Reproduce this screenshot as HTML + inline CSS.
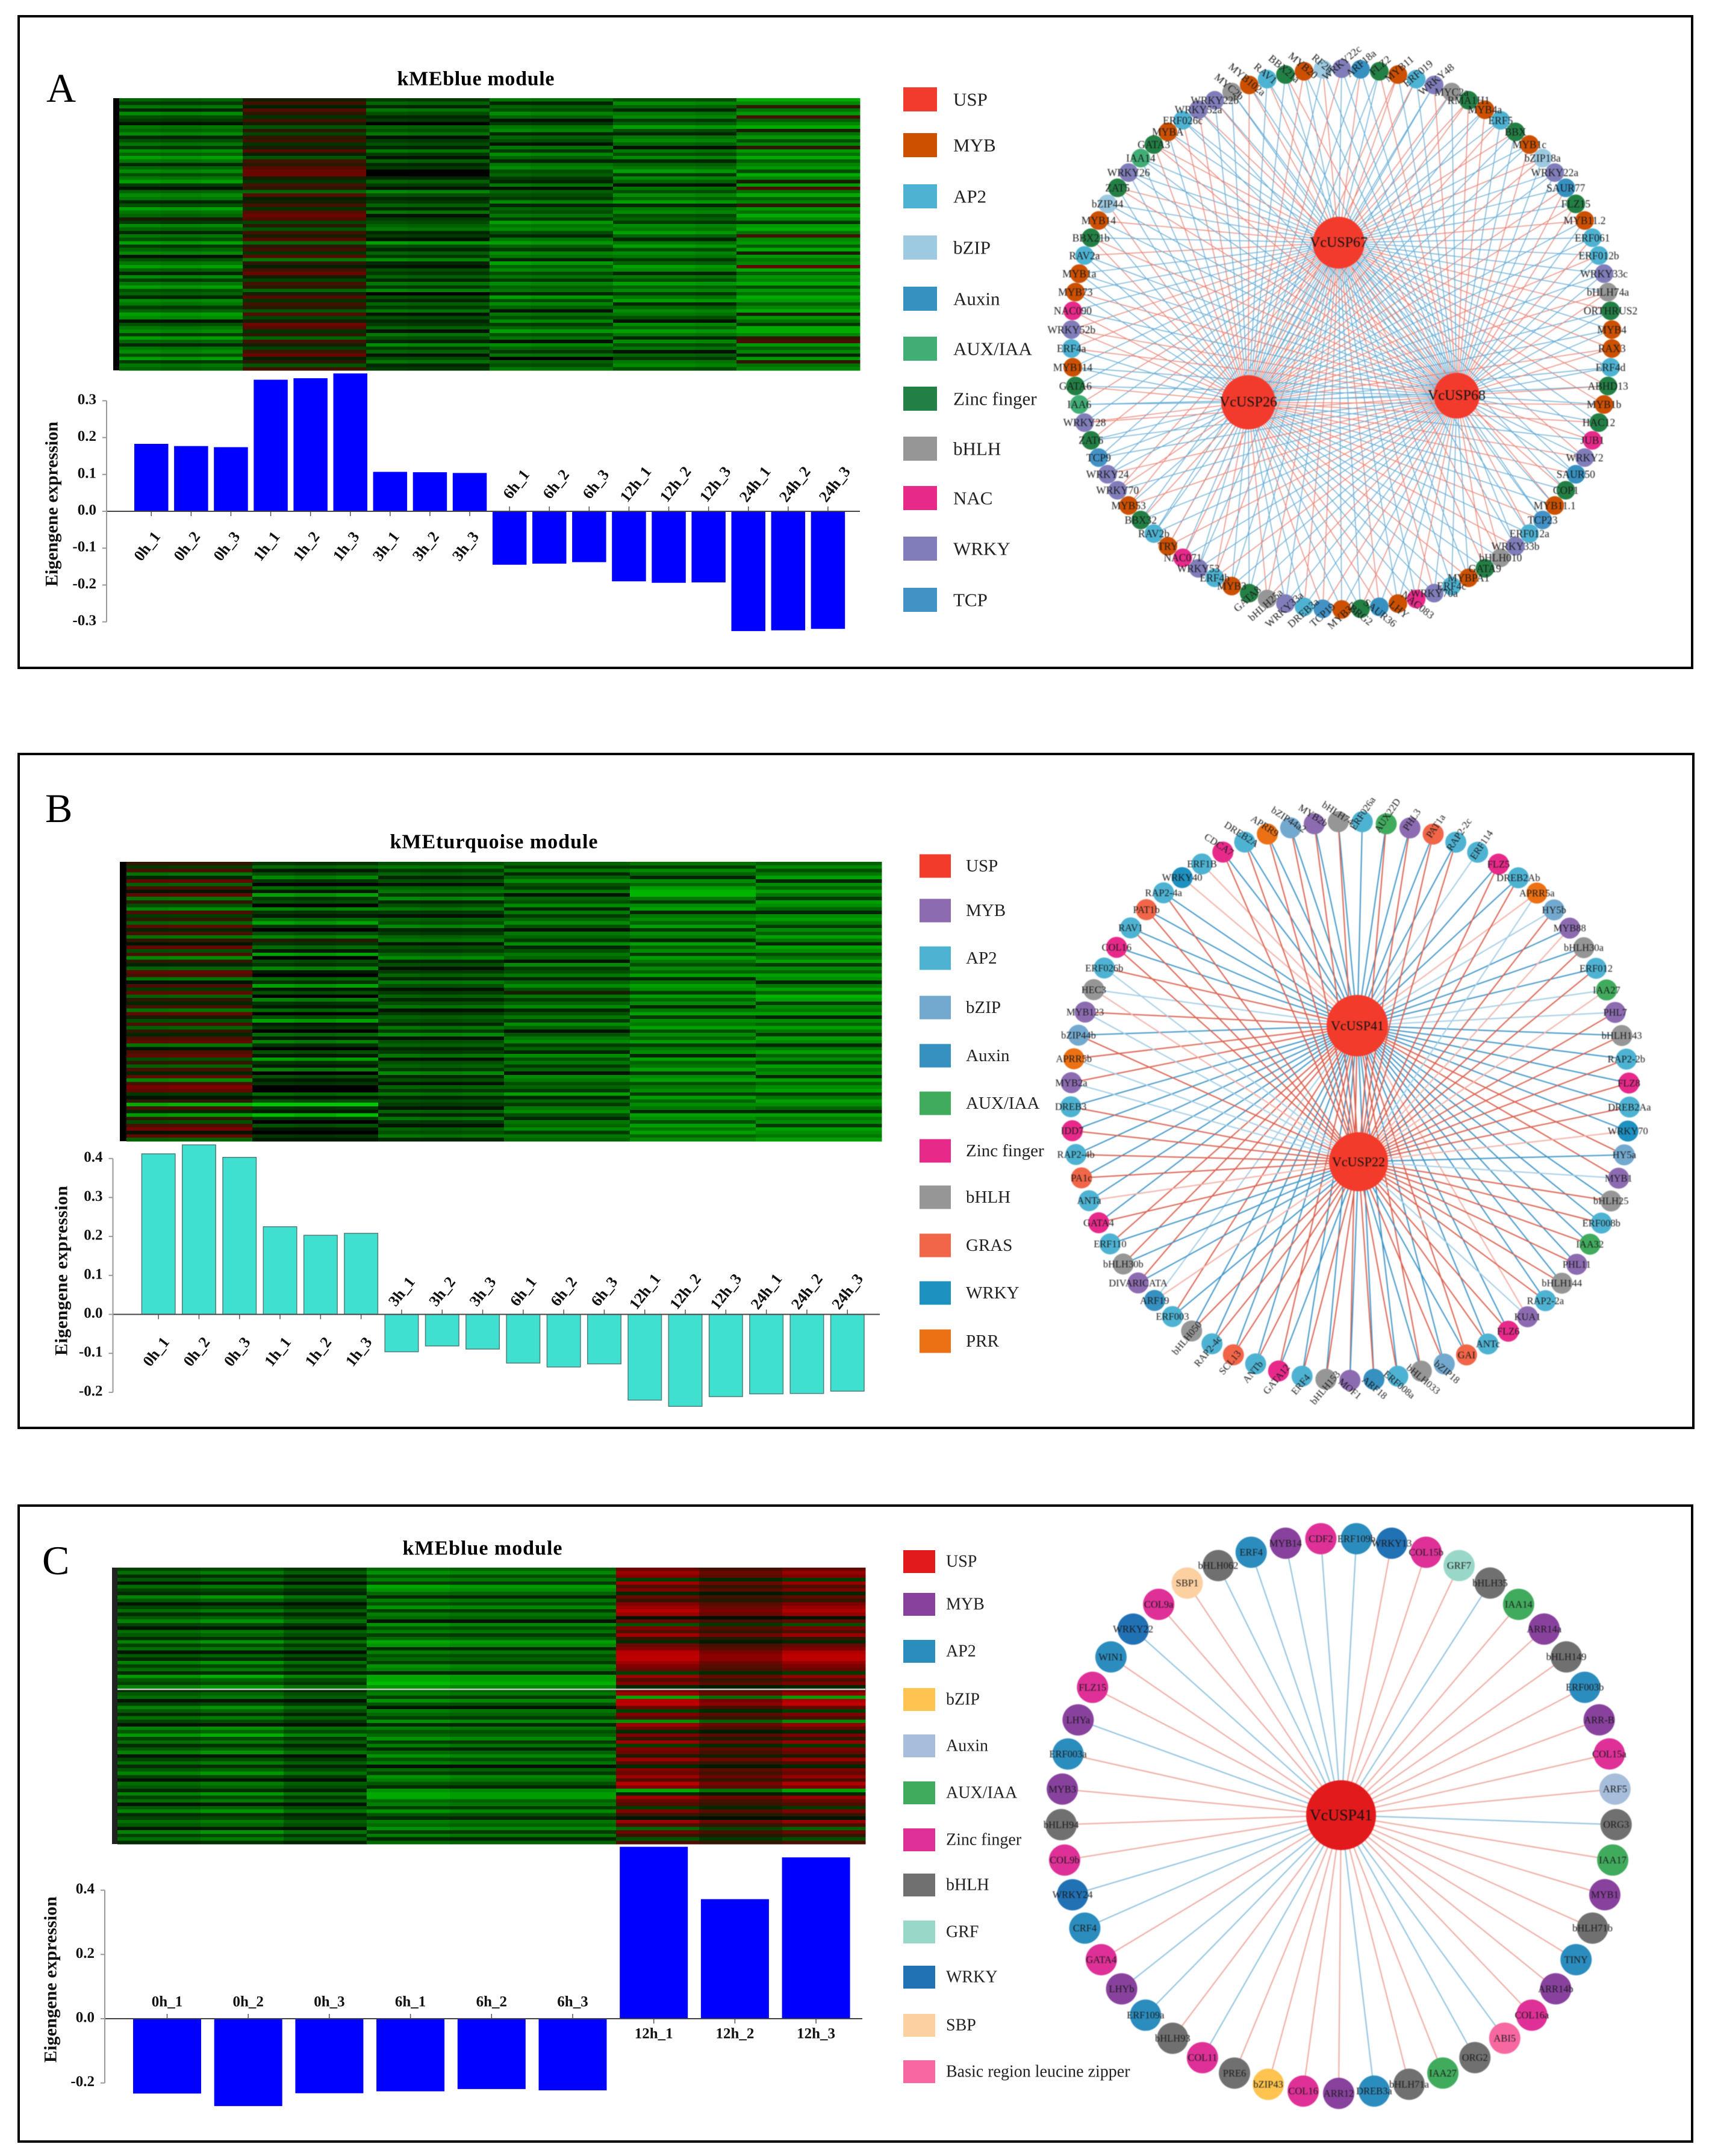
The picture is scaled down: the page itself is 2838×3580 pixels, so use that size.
<!DOCTYPE html>
<html lang="en"><head><meta charset="utf-8"><title>WGCNA modules and USP networks</title>
<style>
html,body{margin:0;padding:0;background:#fff;width:2838px;height:3580px;overflow:hidden}
svg{display:block;font-family:"Liberation Serif","DejaVu Serif",serif}
</style></head>
<body>
<svg id="figure" width="2838" height="3580" viewBox="0 0 2838 3580">
<rect width="2838" height="3580" fill="#fff"/>
<rect x="31" y="27" width="2779" height="1082" fill="none" stroke="#000" stroke-width="4"/>
<rect x="31" y="1252" width="2781" height="1119" fill="none" stroke="#000" stroke-width="4"/>
<rect x="31" y="2500" width="2779" height="1056" fill="none" stroke="#000" stroke-width="4"/>
<text x="77" y="169" font-size="68">A</text>
<text x="75" y="1365" font-size="68">B</text>
<text x="70" y="2614" font-size="68">C</text>
<text x="790" y="131" font-size="34" font-weight="bold" text-anchor="middle" dominant-baseline="central" textLength="261">kMEblue module</text>
<text x="820" y="1398" font-size="34" font-weight="bold" text-anchor="middle" dominant-baseline="central" textLength="345">kMEturquoise module</text>
<text x="801" y="2571" font-size="34" font-weight="bold" text-anchor="middle" dominant-baseline="central" textLength="265">kMEblue module</text>
</svg>
<script>
/* ---------- bar chart data ---------- */
const barLabelsA=['0h_1','0h_2','0h_3','1h_1','1h_2','1h_3','3h_1','3h_2','3h_3','6h_1','6h_2','6h_3','12h_1','12h_2','12h_3','24h_1','24h_2','24h_3'];
const barValuesA=[0.183,0.177,0.174,0.357,0.361,0.374,0.107,0.106,0.104,-0.145,-0.142,-0.138,-0.190,-0.194,-0.193,-0.325,-0.323,-0.319];
const yTicksA=[0.3,0.2,0.1,0,-0.1,-0.2,-0.3];
const barLabelsB=['0h_1','0h_2','0h_3','1h_1','1h_2','1h_3','3h_1','3h_2','3h_3','6h_1','6h_2','6h_3','12h_1','12h_2','12h_3','24h_1','24h_2','24h_3'];
const barValuesB=[0.412,0.435,0.403,0.225,0.203,0.208,-0.096,-0.081,-0.089,-0.125,-0.135,-0.127,-0.220,-0.236,-0.211,-0.204,-0.203,-0.197];
const yTicksB=[0.4,0.3,0.2,0.1,0,-0.1,-0.2];
const barLabelsC=['0h_1','0h_2','0h_3','6h_1','6h_2','6h_3','12h_1','12h_2','12h_3'];
const barValuesC=[-0.233,-0.272,-0.232,-0.226,-0.219,-0.223,0.535,0.372,0.502];
const yTicksC=[0.4,0.2,0,-0.2];

/* ---------- heatmap data: negative = green, positive = red ---------- */
const heatA0h=[-5,-3,-6,-2,-7,-4,-3,-1,-6,-5,-7,-2,-4,-6,-3,-7,-5,-8,-6,-2,-5,-7,-4,-6,-8,-3,-1,-5,-7,-6,-2,-4,-8,-6,-5,1,-3,-7,-5,-2,-6,-4,-8,-3,-5,-7,-1,-4,-6,-8,-5,-2,-7,-3,-6,-8,-4,-5,-2,-7,-6,-3,-5,-8,-7,-1,-4,-6,-7,-3,-8,-5,-2,-6,-7,-4,-8,-3,-6,-5];
const heatA1h=[1,3,-2,4,2,-3,3,1,-5,2,-4,2,3,-3,1,4,-2,-5,3,2,4,5,5,1,-3,3,2,-6,4,-2,1,3,-3,4,5,4,-4,2,-5,3,1,4,-6,2,3,-3,4,-7,2,-2,3,5,1,-4,3,2,-6,1,4,-3,3,2,-5,4,-4,1,5,4,-3,2,-6,3,1,-4,3,5,-2,2,-5,3];
const heatA3h=[-3,-5,-2,-6,-4,-2,-3,0,-5,-4,-6,-1,-3,-4,-2,-6,-3,-1,-5,-2,-3,0,0,-2,-5,-3,-1,-7,-4,-2,-3,-5,-2,-6,-1,-3,-4,-5,-6,-2,-3,-1,-8,-4,-2,-5,-3,-7,-2,-1,-4,-3,-5,-2,-6,-3,-7,0,-4,-2,-5,-3,-6,-1,-4,-2,-3,-5,-1,-6,-4,-2,-7,-3,-5,-1,-4,-6,-2,-3];
const heatA6h=[-6,-2,-5,-4,-7,-5,-1,-3,-6,-7,-2,-5,-4,-1,-6,-3,-7,-5,-2,-6,-7,-4,-5,-3,-2,-6,-1,-5,-4,-3,-7,-2,-5,-4,-6,-3,-8,-6,-7,-4,-2,-6,-8,-5,-3,-7,-6,-2,-8,-5,-7,-4,-6,-3,-7,-5,-6,-2,-8,-4,-7,-5,-1,-6,-4,-7,-3,-5,-8,-4,-6,-1,-7,-5,-3,-6,0,-5,-4,-6];
const heatA12h=[-4,-7,-5,-2,-6,-7,-3,-5,-8,-4,-2,-6,-7,-5,-1,-6,-4,-7,-2,-5,-6,-8,-3,-7,-5,-1,-6,-4,-7,-5,-8,-2,-6,-7,-4,-5,-3,-7,-6,-8,-5,-2,-6,-8,-4,-7,-6,-3,-5,-8,-7,-2,-6,-4,-8,-5,-7,-3,-6,-8,-2,-5,-7,-6,-4,-1,-7,-5,-8,-6,-2,-7,-4,-6,-1,-5,-3,-6,-7,-4];
const heatA24h=[-9,-7,2,-6,-8,3,-5,-7,-9,1,-6,-8,-4,-7,2,-8,-6,-9,-5,-7,-8,-4,-9,-7,1,-8,3,-6,-9,-5,-7,2,-8,-6,-9,-7,-3,-8,-9,-6,3,-7,-8,-5,-9,1,-8,-6,-7,4,-9,-5,-8,-7,-9,-4,-8,-6,-9,-8,-5,-7,-9,1,-8,-6,-3,-9,-9,-7,2,3,-8,-5,-7,-2,-8,2,-6,-7];
const heatGainA=[1,0.95,1,0.85,0.85,0.85,1,0.95,0.95,1,0.95,0.95,1,1,0.95,0.95,0.95,0.95];

const heatB0h=[2,-3,3,-6,-2,4,-5,3,-1,4,-6,2,-4,-7,3,-3,2,-5,4,-2,3,-6,2,-1,4,-4,3,-7,2,-2,-5,4,3,-6,-1,3,-3,4,-5,2,-2,3,-6,4,1,-4,3,-5,2,-2,3,4,-6,-1,3,4,-4,2,-5,3,-2,4,-7,3,5,4,-3,-1,2,-9,3,-2,-8,2,-4,3,5,-1,4,-5];
const heatB1h=[-2,-4,-1,-3,-5,-2,0,-4,-1,-6,-2,-3,0,-5,-2,-1,-4,-6,-2,0,-3,-5,1,-2,-4,-1,-6,0,-3,-2,-5,-1,0,-4,-2,-6,-1,-3,0,-5,-2,-1,-4,0,-3,-6,-1,-2,0,-4,-1,-5,-2,0,-3,-1,-6,-2,-1,-5,0,-3,-1,-2,0,0,-4,-1,-3,-9,-2,-1,-7,-2,0,-3,-1,0,-2,-1];
const heatB3h=[-4,-6,-3,-5,-2,-4,-1,-5,-6,-3,-7,-2,-4,-6,-3,-1,-5,-4,-7,-2,-3,-5,-6,-1,-4,-3,-5,-7,-2,-4,-1,-3,-5,-2,-6,-4,-1,-3,-5,-2,-4,-6,-1,-3,-5,-4,-2,-6,-3,-7,-1,-4,-5,-2,-3,-6,-1,-4,-5,-3,-7,-2,-4,-1,-5,-3,-6,-2,-4,-3,-1,-5,-2,-6,-3,-1,-5,-4,-6,-2];
const heatB6h=[-5,-3,-6,-2,-5,-7,-4,-3,-6,-1,-5,-4,-7,-2,-6,-3,-5,-7,-4,-1,-6,-5,-3,-7,-2,-4,-6,-5,-1,-7,-3,-4,-6,-2,-5,-7,-4,1,-6,-3,-5,-7,-2,-4,-6,-3,-7,-5,-1,-4,-6,-7,-3,-5,-2,-7,-4,-6,-3,-5,-1,-7,-6,-4,-5,-3,-8,-2,-5,-3,-6,-7,-4,-2,-6,-5,-7,-3,-6,-5];
const heatB12h=[-6,-3,-7,-5,-2,-7,-5,-8,-9,-9,-6,-3,-7,-8,-2,-6,-7,-5,-8,-3,-7,-6,-2,-8,-5,-7,-3,-8,-6,-4,-7,-5,-8,-2,-6,-8,-7,-3,-8,-5,-7,-2,-6,-8,-3,-7,-6,-8,-4,-7,-5,-8,-3,-6,-7,-2,-8,-5,-6,-8,-3,-7,-8,-4,-6,-7,-3,-8,-5,-7,-6,-2,-8,-7,-4,-8,-6,-8,-5,-7];
const heatB24h=[-5,-7,-4,-6,-8,-2,-7,-5,-8,-6,-3,-8,-7,-5,-2,-7,-8,-6,-3,-7,-5,-8,-6,-2,-8,-7,-4,-6,-8,-3,-7,-5,-8,-7,-2,-6,-8,-5,-9,-8,-3,-7,-6,-8,-2,-7,-5,-8,-6,-3,-8,-7,-2,-6,-8,-5,-7,-3,-8,-6,-7,-2,-8,-5,-7,-8,-3,-6,-8,-7,-5,-2,-8,-6,-7,-3,-8,-7,-6,-8];
const heatGainB=[0.95,1,1,1.35,1.25,1.35,1,0.95,1,1,1,1,1,1,1,1,1,1];

const heatC0h=[-3,-5,-2,-4,-1,-5,-3,-2,-6,-4,-1,-3,-5,-2,-4,-6,-3,-1,-5,-4,-2,-6,-3,-5,-1,-4,-2,-6,-3,-5,-2,-7,-4,-3,-6,-2,-4,-5,-1,-3,-6,-4,-2,-5,-3,-1,-6,-4,-7,-3,-5,-2,-4,-6,-1,-3,-5,-2,-4,-6,-3,-1,-5,-4,-2,-6,-3,-5,-1,-4,-6,-2,-3,-5,-4,-1,-6,-3,-5,-2];
const heatC6h=[-5,-7,-4,-6,-3,-8,-7,-5,-2,-6,-4,-7,-3,-6,-5,-1,-7,-4,-6,-3,-5,-8,-7,-2,-6,-4,-5,-3,-7,-6,-2,-8,-8,-9,-7,-5,-6,-3,-7,-4,-1,-6,-5,-3,-7,-2,-6,-4,-5,-7,-3,-6,-2,-5,-7,-4,-6,-1,-5,-3,-7,-6,-4,-2,-7,-8,-8,-5,-6,-3,-7,-4,-2,-6,-5,-7,-3,-6,-2,-5];
const heatC12h=[4,6,5,-3,6,3,5,-2,4,2,5,6,7,6,-1,4,-4,5,3,6,2,-2,4,5,7,8,8,6,5,4,-3,6,3,5,-2,4,6,-8,7,8,4,-3,5,3,-7,6,4,-2,5,2,6,-3,5,4,1,6,3,-2,5,4,6,3,7,5,-8,-2,6,4,3,-3,5,2,-1,6,3,-5,4,2,-4,3];
const heatGainC=[1.1,1.25,0.95,1.05,0.98,0.98,1.05,0.7,1];
const heatHighlightRowC=35;

/* ---------- network data: name:family, clockwise from the top ---------- */
const nodesA=['WRKY22c:W','ARF18a:X','FLZ2:F','MYB11:M','ERF019:A','WRKY48:W','MYC2a:H','RMA1H1:F','MYB4a:M','ERF5:A','BBX:F','MYB1c:M','bZIP18a:Z','WRKY22a:W','SAUR77:X','FLZ15:F','MYB11.2:M','ERF061:A','ERF012b:A','WRKY33c:W','bHLH74a:H','ORTHRUS2:F','MYB4:M','RAX3:M','ERF4d:A','ABHD13:F','MYB1b:M','HAC12:F','JUB1:N','WRKY2:W','SAUR50:X','COP1:F','MYB11.1:M','TCP23:T','ERF012a:A','WRKY33b:W','bHLH010:H','GATA9:F','MYBPA1:M','ERF4c:A','WRKY70a:W','NAC083:N','LHY:M','SAUR36:X','BRG2:F','MYB37:M','TCP19:T','DREB3a:A','WRKY33a:W','bHLH25a:H','GATA8:F','MYB3:M','ERF4b:A','WRKY53:W','NAC071:N','TRY:M','RAV2b:A','BBX32:F','MYB53:M','WRKY70:W','WRKY24:W','TCP9:T','ZAT6:F','WRKY28:W','IAA6:I','GATA6:F','MYB114:M','ERF4a:A','WRKY52b:W','NAC090:N','MYB73:M','MYB1a:M','RAV2a:A','BBX21b:F','MYB14:M','bZIP44:Z','ZAT5:F','WRKY26:W','IAA14:I','GATA3:F','MYBA:M','ERF026c:A','WRKY52a:W','WRKY22b:W','MYC2b:H','MYB102a:M','RAV1:A','BBX21a:F','MYB20:M','RF2b:Z'];
const hubsA=['VcUSP67','VcUSP26','VcUSP68'];
const edgesA=[
'brbrbbrrbbrbrbbbrbbbbrbrbrrbbrbbrbbbrrbbrbbrbbrrbrbbrbrbbbrrbbrbrbbrrbbbrbrbrbbrbbrbbrrbbr',
'rbbrrbbrbrbbrbrrbbrbrbbrbbrrbrrbbrbrbbrbbbrrbbrbbrbbrbbrbrbrbbbrbrbbrrbbbrbrbbbrbrrbbrbbrb',
'bbrbbrbrrbbrbbrrbrbbrbbrbrbbrbbrbbrbrrbbbrbbrbrbbrbbrbbrbbrbrbbrbbbrrbrbbrbbrbbrrbbrbbbrbb'];
const nodesB=['ERF026a:A','AUX22D:I','PHL3:M','PAT1a:G','RAP2-2c:A','ERF114:A','FLZ5:F','DREB2Ab:A','APRR5a:P','HY5b:Z','MYB88:M','bHLH30a:H','ERF012:A','IAA27:I','PHL7:M','bHLH143:H','RAP2-2b:A','FLZ8:F','DREB2Aa:A','WRKY70:W','HY5a:Z','MYB1:M','bHLH25:H','ERF008b:A','IAA32:I','PHL11:M','bHLH144:H','RAP2-2a:A','KUA1:M','FLZ6:F','ANTc:A','GAI:G','bZIP18:Z','bHLH033:H','ERF008a:A','ARF18:X','MOF1:M','bHLH153:H','ERF4:A','GATA12:F','ANTb:A','SCL13:G','RAP2-4c:A','bHLH050:H','ERF003:A','ARF19:X','DIVARICATA:M','bHLH30b:H','ERF110:A','GATA4:F','ANTa:A','PA1c:G','RAP2-4b:A','IDD7:F','DREB3:A','MYB2a:M','APRR5b:P','bZIP44b:Z','MYB123:M','HEC3:H','ERF026b:A','COL16:F','RAV1:A','PAT1b:G','RAP2-4a:A','WRKY40:W','ERF1B:A','CDCA7:F','DREB2A:A','APRR9:P','bZIP44a2:Z','MYB2b:M','bHLH74:H'];
const hubsB=['VcUSP41','VcUSP22'];
const edgesB=[
'bbbbblbbplbbbllbbbbbrrbbbbbbpbbrbrbbrbbrbbbbrlrrrbbbbbbrrbrlrbbbbppbbbbbb',
'-rrrr-rrlrprrprrrrrpblrrrrrrlrrbrbrrbrrbrrrrbpbbbrprrrrllrlplrrrr--rrrrrr'];
const nodesC=['ERF109b:A','WRKY13:W','COL15b:F','GRF7:G','bHLH35:H','IAA14:I','ARR14a:M','bHLH149:H','ERF003b:A','ARR-B:M','COL15a:F','ARF5:X','ORG3:H','IAA17:I','MYB1:M','bHLH71b:H','TINY:A','ARR14b:M','COL16a:F','ABI5:L','ORG2:H','IAA27:I','bHLH71a:H','DREB3a:A','ARR12:M','COL16:F','bZIP43:Z','PRE6:H','COL11:F','bHLH93:H','ERF109a:A','LHYb:M','GATA4:F','CRF4:A','WRKY24:W','COL9b:F','bHLH94:H','MYB3:M','ERF003a:A','LHYa:M','FLZ15:F','WIN1:A','WRKY22:W','COL9a:F','SBP1:S','bHLH062:H','ERF4:A','MYB14:M','CDF2:F'];
const hubsC=['VcUSP41'];
const edgesC=['brrrbrrrrrrrbrrrrrrbbrrbrrrrbrbbrbbrrrrbrrbrrbbbb'];

/* ---------- legends ---------- */
const legendA=['USP','MYB','AP2','bZIP','Auxin','AUX/IAA','Zinc finger','bHLH','NAC','WRKY','TCP'];
const legendB=['USP','MYB','AP2','bZIP','Auxin','AUX/IAA','Zinc finger','bHLH','GRAS','WRKY','PRR'];
const legendC=['USP','MYB','AP2','bZIP','Auxin','AUX/IAA','Zinc finger','bHLH','GRF','WRKY','SBP','Basic region leucine zipper'];

/* ---------- styles / layout ---------- */
const familyColorsA={U:'#f33b2d',M:'#cc5000',A:'#4eb3d3',Z:'#9ecae1',X:'#3690c0',I:'#41ae76',F:'#238045',H:'#969696',N:'#e7298a',W:'#807dba',T:'#4292c6'};
const familyColorsB={U:'#f33b2b',M:'#8c6bb1',A:'#4eb3d3',Z:'#74a9cf',X:'#3690c0',I:'#41ab5d',F:'#e7298a',H:'#969696',G:'#f16548',W:'#1d91c0',P:'#ec7014'};
const familyColorsC={U:'#e31a1c',M:'#88419d',A:'#2b8cbe',Z:'#fec44f',X:'#a6bddb',I:'#41ab5d',F:'#de3097',H:'#707070',G:'#99d8c9',W:'#2171b5',S:'#fdd0a2',L:'#f768a1'};
const legendKeysA=['U','M','A','Z','X','I','F','H','N','W','T'];
const legendKeysB=['U','M','A','Z','X','I','F','H','G','W','P'];
const legendColorsC=['#e31a1c','#88419d','#2b8cbe','#fec44f','#a6bddb','#41ab5d','#de3097','#707070','#99d8c9','#2171b5','#fdd0a2','#f768a1'];

const svg=document.getElementById('figure');
function mk(tag,attrs,parent,text){
  const e=document.createElementNS(svg.namespaceURI,tag);
  for(const k in attrs){e.setAttribute(k,attrs[k]);}
  if(text!==undefined){e.textContent=text;}
  (parent||svg).appendChild(e);
  return e;
}
function heatColor(v){
  if(v<=0){return 'rgb(0,'+Math.min(200,Math.round(-v*20))+',0)';}
  return 'rgb('+Math.min(190,Math.round(v*25))+','+Math.max(0,Math.round(36-v*7))+',0)';
}
function drawHeatmap(groups,gain,cfg){
  const g=mk('g',{'shape-rendering':'crispEdges'});
  
  
  const frame=mk('rect',{x:cfg.x0,y:cfg.y0,width:cfg.x1-cfg.x0,height:cfg.y1-cfg.y0,fill:cfg.strip},g);
  
  
  const colW=(cfg.x1-cfg.xs)/gain.length;
  const rows=groups[0].length;
  const rowH=(cfg.y1-cfg.y0)/rows;
  const perGroup=gain.length/groups.length;
  for(let c=0;c<gain.length;c++){
    const series=groups[Math.floor(c/perGroup)];
    for(let r=0;r<rows;r++){
      const cell=mk('rect',{x:cfg.xs+c*colW,y:cfg.y0+r*rowH,width:colW+0.6,height:rowH+0.6,fill:heatColor((series[r]||0)*gain[c])},g);
      
      
    }
  }
}
function drawBars(labels,values,ticks,cfg){
  const g=mk('g',{});
  
  
  const yOf=v=>cfg.zero-v*cfg.unit;
  const xOf=i=>cfg.barX+i*cfg.pitch;
  values.forEach((v,i)=>{
    const bar=mk('rect',{x:xOf(i),y:Math.min(yOf(v),cfg.zero),width:cfg.barW,height:Math.abs(v)*cfg.unit,fill:cfg.fill,stroke:cfg.stroke||'none','stroke-width':cfg.stroke?1.5:0},g);
    
    
    const cx=xOf(i)+cfg.barW/2;
    const sgn=v>=0?1:-1;
    const tick=mk('line',{x1:cx,x2:cx,y1:cfg.zero,y2:cfg.zero+sgn*8,stroke:'#555','stroke-width':1.5},g);
    
    
    const lx=cx+(v>=0?cfg.posDx:cfg.negDx);
    const ly=cfg.zero+(v>=0?cfg.posDy:cfg.negDy);
    const lab=mk('text',{x:lx,y:ly,'font-size':cfg.labelSize,'font-weight':'bold','text-anchor':'middle','dominant-baseline':'central',transform:'rotate('+cfg.rot+' '+lx+' '+ly+')',fill:'#111'},g,labels[i]);
    
    
  });
  const zero=mk('line',{x1:cfg.axisX,x2:cfg.zeroEnd,y1:cfg.zero,y2:cfg.zero,stroke:'#444','stroke-width':2},g);
  
  
  const axis=mk('line',{x1:cfg.axisX,x2:cfg.axisX,y1:yOf(Math.max.apply(null,ticks)),y2:yOf(Math.min.apply(null,ticks)),stroke:'#999','stroke-width':2},g);
  
  
  ticks.forEach(t=>{
    const tl=mk('line',{x1:cfg.axisX-7,x2:cfg.axisX,y1:yOf(t),y2:yOf(t),stroke:'#999','stroke-width':2},g);
    
    
    const lab=mk('text',{x:cfg.axisX-17,y:yOf(t)-2,'font-size':25,'font-weight':'bold','text-anchor':'end','dominant-baseline':'central',fill:'#111'},g,t.toFixed(1));
    
    
  });
  const title=mk('text',{x:cfg.titleX,y:cfg.titleY,'font-size':30,'font-weight':'bold','text-anchor':'middle','dominant-baseline':'central',textLength:cfg.titleLen,transform:'rotate(-90 '+cfg.titleX+' '+cfg.titleY+')',fill:'#111'},g,'Eigengene expression');
  
  
}
function drawLegend(labels,colors,cfg){
  const g=mk('g',{});
  
  
  labels.forEach((t,i)=>{
    const cy=cfg.rows[i];
    const sw=mk('rect',{x:cfg.x,y:cy-cfg.h/2,width:cfg.w,height:cfg.h,fill:colors[i]},g);
    
    
    const tx=mk('text',{x:cfg.tx,y:cy,'font-size':cfg.size,'dominant-baseline':'central',fill:'#222'},g,t);
    
    
  });
}
function drawNetwork(nodes,hubs,edges,colors,cfg){
  const g=mk('g',{style:'filter:blur(0.7px)'});
  
  
  const pts=nodes.map((n,i)=>{
    const a=(cfg.start+i*360/nodes.length)*Math.PI/180;
    return {x:cfg.cx+cfg.R*Math.sin(a),y:cfg.cy-cfg.R*Math.cos(a),sx:Math.sin(a),sy:-Math.cos(a)};
  });
  hubs.forEach((h,hi)=>{
    const hp=cfg.hubs[hi];
    pts.forEach((p,i)=>{
      const type=edges[hi].charAt(i);
      if(!cfg.edge[type]){return;}
      const e=mk('line',{x1:hp.x,y1:hp.y,x2:p.x,y2:p.y,stroke:cfg.edge[type],'stroke-width':cfg.edgeW},g);
      
      
    });
  });
  nodes.forEach((n,i)=>{
    const parts=n.split(':');
    const p=pts[i];
    const c=mk('circle',{cx:p.x,cy:p.y,r:cfg.r,fill:colors[parts[1]]},g);
    
    
  });
  nodes.forEach((n,i)=>{
    const parts=n.split(':');
    const p=pts[i];
    let rot=0;
    cfg.rotate.forEach(q=>{if(i>=q[0]&&i<=q[1]){rot=q[2];}});
    const off=rot?cfg.off:0;
    const x=p.x+p.sx*off, y=p.y+p.sy*off;
    const attrs={x:x,y:y,'font-size':cfg.font,'text-anchor':'middle','dominant-baseline':'central',fill:'#1a1a1a'};
    if(rot){attrs.transform='rotate('+rot+' '+x+' '+y+')';}
    const t=mk('text',attrs,g,parts[0]);
    
    
  });
  hubs.forEach((h,hi)=>{
    const hp=cfg.hubs[hi];
    const c=mk('circle',{cx:hp.x,cy:hp.y,r:hp.r,fill:colors.U},g);
    
    
    const t=mk('text',{x:hp.x,y:hp.y,'font-size':cfg.hubFont,'text-anchor':'middle','dominant-baseline':'central',fill:'#111'},g,h);
    
    
  });
}

/* ---------- panel A ---------- */
drawHeatmap([heatA0h,heatA1h,heatA3h,heatA6h,heatA12h,heatA24h],heatGainA,{x0:188,xs:198,x1:1428,y0:163,y1:615,strip:'#000'});
drawBars(barLabelsA,barValuesA,yTicksA,{zero:849,unit:612,barX:223,barW:56.5,pitch:66.1,fill:'#0000ff',axisX:177,zeroEnd:1428,rot:-52,labelSize:26,posDx:-7,posDy:58,negDx:11,negDy:-45,titleX:86,titleY:837,titleLen:274});
drawLegend(legendA,legendKeysA.map(k=>familyColorsA[k]),{x:1500,w:56,h:40,tx:1583,size:31,rows:[165,241,326,411,496,579,662,745,827,911,996]});
drawNetwork(nodesA,hubsA,edgesA,familyColorsA,{cx:2228,cy:563,R:449,start:0,r:15.5,font:17.5,hubFont:24,off:10,edgeW:1.3,
  edge:{b:'#62a9d2',r:'#e77f72'},
  hubs:[{x:2223,y:403,r:43},{x:2073,y:668,r:45},{x:2419,y:657,r:38}],
  rotate:[[0,5,-40],[41,44,38],[45,50,-42],[84,89,40]]});

/* ---------- panel B ---------- */
drawHeatmap([heatB0h,heatB1h,heatB3h,heatB6h,heatB12h,heatB24h],heatGainB,{x0:199,xs:210,x1:1464,y0:1431,y1:1895,strip:'#000'});
drawBars(barLabelsB,barValuesB,yTicksB,{zero:2182.5,unit:647,barX:235.4,barW:55.5,pitch:67.3,fill:'#40e0d0',stroke:'#4f7f7a',axisX:187.5,zeroEnd:1461,rot:-52,labelSize:26,posDx:-4,posDy:62,negDx:0,negDy:-38,titleX:102,titleY:2110,titleLen:282});
drawLegend(legendB,legendKeysB.map(k=>familyColorsB[k]),{x:1527,w:52,h:39,tx:1604,size:29,rows:[1438,1512,1591,1673,1753,1832,1911,1988,2068,2147,2227]});
drawNetwork(nodesB,hubsB,edgesB,familyColorsB,{cx:2242,cy:1828,R:464,start:2.5,r:17.5,font:16.5,hubFont:22,off:14,edgeW:2,
  edge:{b:'#3f94c5',r:'#d9604f',l:'#a3cde4',p:'#f2b0a6'},
  hubs:[{x:2254,y:1703,r:51},{x:2256,y:1929,r:49}],
  rotate:[[0,5,-56],[32,36,40],[37,43,-50],[67,72,33]]});

/* ---------- panel C ---------- */
drawHeatmap([heatC0h,heatC6h,heatC12h],heatGainC,{x0:186,xs:195,x1:1437,y0:2603,y1:3062,strip:'#222'});
const highlight=mk('rect',{x:195,y:2603+heatHighlightRowC*(459/heatC0h.length),width:1242,height:2.5,fill:'#c8c8c8'});


drawBars(barLabelsC,barValuesC,yTicksC,{zero:3352,unit:533.5,barX:221,barW:113,pitch:134.7,fill:'#0000ff',axisX:174,zeroEnd:1432,rot:0,labelSize:25,posDx:0,posDy:25,negDx:0,negDy:-28,titleX:84,titleY:3287,titleLen:276});
drawLegend(legendC,legendColorsC,{x:1500,w:53,h:38,tx:1571,size:28,rows:[2593,2664,2742,2822,2899,2977,3055,3130,3208,3283,3363,3440]});
drawNetwork(nodesC,hubsC,edgesC,familyColorsC,{cx:2223,cy:3015,R:461,start:3.67,r:26,font:16.5,hubFont:26,off:0,edgeW:2,
  edge:{b:'#8cc0dc',r:'#eda79e'},
  hubs:[{x:2227,y:3014,r:58}],
  rotate:[]});
</script>
</body></html>
